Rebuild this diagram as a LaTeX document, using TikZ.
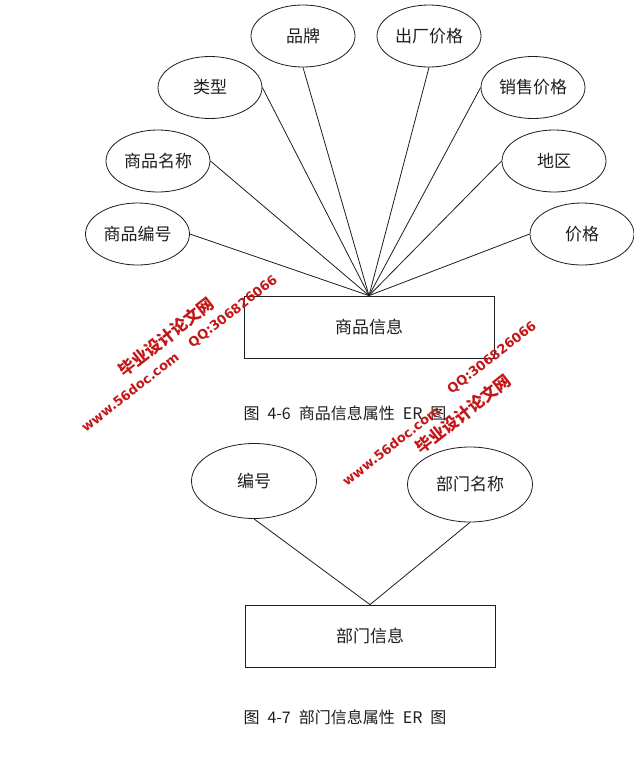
\documentclass[tikz,border=0pt]{standalone}
\usepackage{fontspec}
\setmainfont{Liberation Serif}
\newfontfamily\cjk{Noto Sans CJK SC}
\newfontfamily\wmfont{DejaVu Sans}
\usetikzlibrary{shapes.geometric}
\definecolor{wmred}{RGB}{196,24,24}
\definecolor{ink}{RGB}{30,30,30}
\newcommand{\gapsp}{\hspace{0.5em}}
\begin{document}
\begin{tikzpicture}[x=1pt,y=-1pt,
  attr/.style={draw=ink, line width=0.8pt, ellipse, minimum width=104pt, minimum height=62pt, inner sep=0pt, text=ink, font=\cjk\fontsize{17}{17}\selectfont},
  battr/.style={attr, minimum width=125pt, minimum height=75pt},
  ent/.style={draw=ink, line width=0.8pt, rectangle, minimum width=250pt, minimum height=62pt, inner sep=0pt, text=ink, font=\cjk\fontsize{17}{17}\selectfont},
  link/.style={draw=ink, line width=0.8pt},
  captext/.style={text=ink, font=\cjk\fontsize{16}{16}\selectfont},
  wmlat/.style={text=wmred, font=\wmfont\bfseries\fontsize{13}{13}\selectfont, rotate=38, inner sep=0pt},
  wmcjk/.style={text=wmred, font=\cjk\bfseries\fontsize{16.5}{16.5}\selectfont, rotate=38, inner sep=0pt}
]
\useasboundingbox (0,0) rectangle (634,780);
\fill[white] (0,0) rectangle (634,780);

% Figure 4-6
\node[attr] (brand)  at (303,36)    {品牌};
\node[attr] (fprice) at (429,36)    {出厂价格};
\node[attr] (type)   at (210,87.5)  {类型};
\node[attr] (sprice) at (533,87.5)  {销售价格};
\node[attr] (gname)  at (158,161)   {商品名称};
\node[attr] (region) at (554,161)   {地区};
\node[attr] (gid)    at (137.5,234) {商品编号};
\node[attr] (price)  at (582,234)   {价格};
\node[ent]  (goods)  at (369,327)   {商品信息};
\node[captext] (cap1) at (345,413)  {图\gapsp 4-6\gapsp 商品信息属性\gapsp ER\gapsp 图};

\draw[link] (gid.east)    -- (goods.north);
\draw[link] (gname.east)  -- (goods.north);
\draw[link] (type.east)   -- (goods.north);
\draw[link] (brand.south) -- (goods.north);
\draw[link] (fprice.south)-- (goods.north);
\draw[link] (sprice.west) -- (goods.north);
\draw[link] (region.west) -- (goods.north);
\draw[link] (price.west)  -- (goods.north);

% Figure 4-7
\node[battr] (num)   at (254,481)   {编号};
\node[battr] (dname) at (470,484.5) {部门名称};
\node[ent]   (dept)  at (370,636)   {部门信息};
\node[captext] (cap2) at (345,717)  {图\gapsp 4-7\gapsp 部门信息属性\gapsp ER\gapsp 图};

\draw[link] (num.south)   -- (dept.north);
\draw[link] (dname.south) -- (dept.north);

% watermarks
\node[wmcjk] (wm1) at (166,337) {毕业设计论文网};
\node[wmlat] (wm2) at (130,392) {www.56doc.com};
\node[wmlat] (wm3) at (233,312) {QQ:306826066};
\node[wmlat] (wm4) at (492,358) {QQ:306826066};
\node[wmcjk] (wm5) at (463,414) {毕业设计论文网};
\node[wmlat] (wm6) at (391,446) {www.56doc.com};
\end{tikzpicture}
\end{document}
